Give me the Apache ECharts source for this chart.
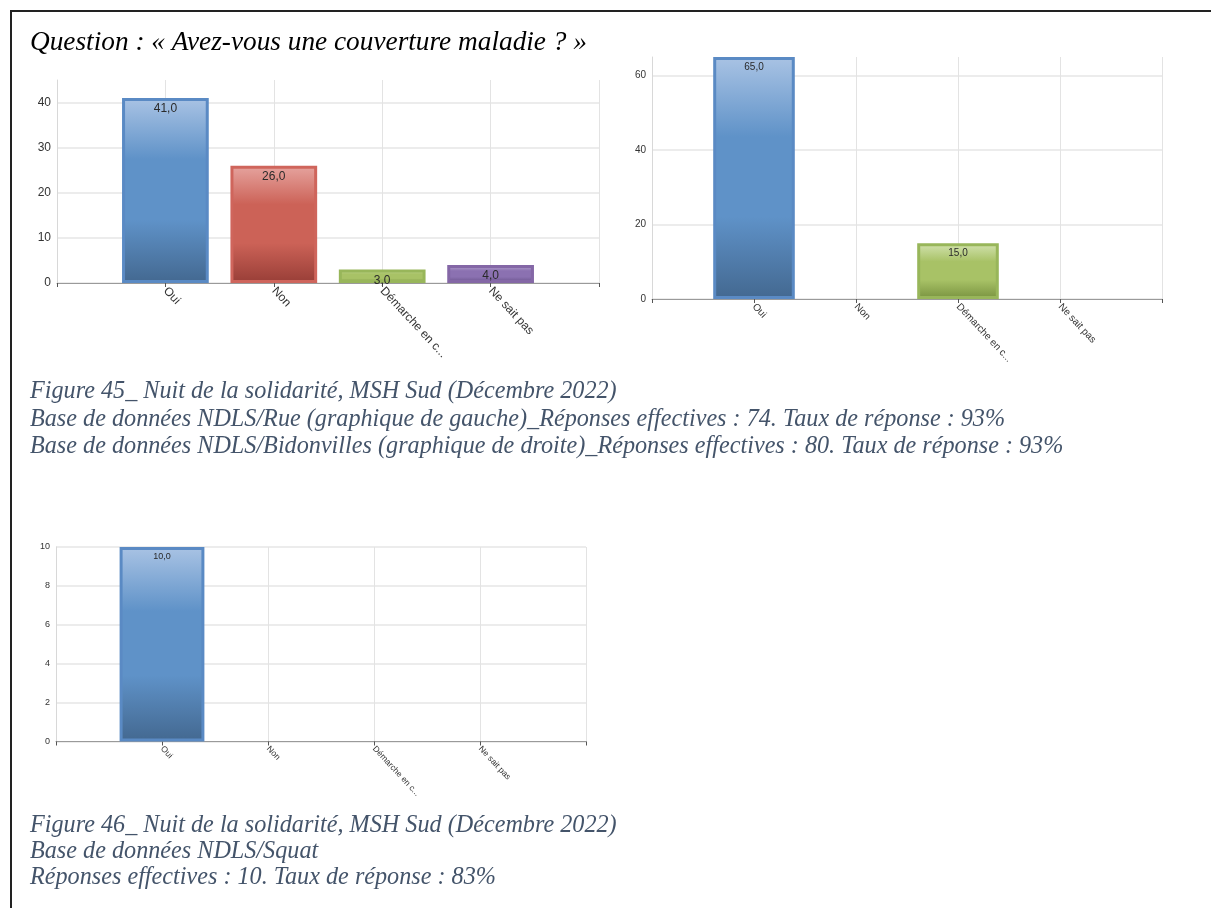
<!DOCTYPE html>
<html><head><meta charset="utf-8">
<script src="https://cdn.jsdelivr.net/npm/echarts@6/dist/echarts.min.js"></script>
<style>
html,body{margin:0;padding:0;background:#fff;}
#frame{position:absolute;left:10px;top:10px;width:1201px;height:898px;border-left:2px solid #222;border-top:2px solid #222;box-sizing:border-box;}
#chart{position:absolute;left:0;top:0;width:1211px;height:908px;}
</style></head><body>
<div id="frame"></div>
<div id="chart"></div>
<script>
// ---- data ----
const categories = ['Oui', 'Non', 'Démarche en c...', 'Ne sait pas'];
const valuesRue = [41, 26, 3, 4];
const valuesBidonvilles = [65, 0, 15, 0];
const valuesSquat = [10, 0, 0, 0];
const questionTitle = 'Question : « Avez-vous une couverture maladie ? »';
const captions45 = [
  'Figure 45_ Nuit de la solidarité, MSH Sud (Décembre 2022)',
  'Base de données NDLS/Rue (graphique de gauche)_Réponses effectives : 74. Taux de réponse : 93%',
  'Base de données NDLS/Bidonvilles (graphique de droite)_Réponses effectives : 80. Taux de réponse : 93%'
];
const captions46 = [
  'Figure 46_ Nuit de la solidarité, MSH Sud (Décembre 2022)',
  'Base de données NDLS/Squat',
  'Réponses effectives : 10. Taux de réponse : 83%'
];

// ---- styles ----
const palette = [
  {border: '#5a8ac4', top: '#a9c3e4', mid: '#5f92c8', bot: '#436890'},
  {border: '#cf655c', top: '#e6a49f', mid: '#cc6257', bot: '#983e37'},
  {border: '#98b65a', top: '#d3e3b0', mid: '#a8c266', bot: '#78923f'},
  {border: '#8467a6', top: '#bcabd3', mid: '#8b71b1', bot: '#67508a'}
];
function grad(p) {
  return new echarts.graphic.LinearGradient(0, 0, 0, 1, [
    {offset: 0, color: p.top},
    {offset: 0.33, color: p.mid},
    {offset: 0.66, color: p.mid},
    {offset: 1, color: p.bot}
  ]);
}
const fmt = v => v.value.toFixed(1).replace('.', ',');
const axisCats = [''].concat(categories, ['']);

const grids = [
  {left: 57, top: 80, width: 542, height: 203},
  {left: 652, top: 57, width: 510, height: 242},
  {left: 56, top: 547, width: 530, height: 194.5}
];
const yMax = [45, 65, 10];
const yInt = [10, 20, 2];
const fontY = [12, 10, 9];
const fontX = [12, 10, 8.5];
const fontBar = [12, 10, 9];
const allValues = [valuesRue, valuesBidonvilles, valuesSquat];

const xAxes = [], yAxes = [], series = [];
grids.forEach((g, i) => {
  xAxes.push({
    gridIndex: i, type: 'category', data: axisCats, boundaryGap: false,
    axisLine: {show: true, lineStyle: {color: '#9a9a9a', width: 1}},
    axisTick: {show: true, interval: 0, length: 4, lineStyle: {color: '#555'}},
    axisLabel: {interval: 0, rotate: -47, margin: 6, fontSize: fontX[i], color: '#333', fontFamily: 'Liberation Sans, Arial'},
    splitLine: {show: true, interval: 0, lineStyle: {color: '#e3e3e3', width: 1}}
  });
  yAxes.push({
    gridIndex: i, type: 'value', min: 0, max: yMax[i], interval: yInt[i],
    axisLine: {show: true, lineStyle: {color: '#d8d8d8'}},
    axisTick: {show: false},
    axisLabel: {fontSize: fontY[i], color: '#333', margin: 6, fontFamily: 'Liberation Sans, Arial', showMaxLabel: i === 2},
    splitLine: {show: true, showMaxLine: i === 2, lineStyle: {color: '#e6e6e6', width: 1.5}}
  });
  const data = [null].concat(allValues[i].map((v, k) => v === 0 ? null : {
    value: v,
    itemStyle: {color: grad(palette[k]), borderColor: palette[k].border, borderWidth: 3}
  }), [null]);
  series.push({
    type: 'bar', xAxisIndex: i, yAxisIndex: i, data: data, barWidth: '80%',
    label: {show: true, position: 'insideTop', distance: 5, formatter: fmt,
      fontSize: fontBar[i], color: '#2a2a2a', fontFamily: 'Liberation Sans, Arial'}
  });
});

const serif = '"Liberation Serif", "Times New Roman", serif';
const graphic = [
  {type: 'text', x: 30, y: 43, style: {text: questionTitle, fontFamily: serif, fontStyle: 'italic', fontSize: 27.3, fill: '#000', verticalAlign: 'middle'}}
];
const capY45 = [392, 420, 447];
const capY46 = [826, 852, 878];
captions45.forEach((t, k) => graphic.push({type: 'text', x: 30, y: capY45[k], style: {text: t, fontFamily: serif, fontStyle: 'italic', fontSize: 24.2, fill: '#44546a', verticalAlign: 'middle'}}));
captions46.forEach((t, k) => graphic.push({type: 'text', x: 30, y: capY46[k], style: {text: t, fontFamily: serif, fontStyle: 'italic', fontSize: 24.2, fill: '#44546a', verticalAlign: 'middle'}}));

const chart = echarts.init(document.getElementById('chart'), null, {renderer: 'canvas'});
chart.setOption({
  animation: false,
  backgroundColor: 'transparent',
  grid: grids,
  xAxis: xAxes,
  yAxis: yAxes,
  series: series,
  graphic: graphic
});
</script>
</body></html>
